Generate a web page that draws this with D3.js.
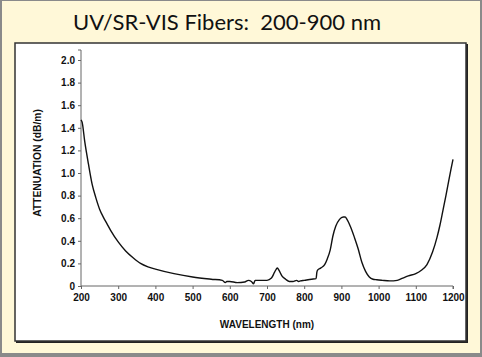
<!DOCTYPE html>
<html><head><meta charset="utf-8">
<script src="https://cdn.jsdelivr.net/npm/d3@7"></script>
<style>html,body{margin:0;padding:0;background:#fff;}svg{display:block;}</style>
</head><body>
<script>
const title = "UV/SR-VIS Fibers:\u00a0 200-900 nm";
const xLabel = "WAVELENGTH (nm)";
const yLabel = "ATTENUATION (dB/m)";
const xTicks = [200,300,400,500,600,700,800,900,1000,1100,1200];
const yTicks = [0,0.2,0.4,0.6,0.8,1.0,1.2,1.4,1.6,1.8,2.0];
const wavelength = [200,203,210,220,230,240,250,260,270,280,300,320,340,360,380,400,450,500,550,580,588,592,600,620,640,650,658,664,668,675,700,712,720,725,728,732,740,750,760,770,780,785,790,800,820,832,834,836,845,855,862,870,877,885,895,905,910,915,925,935,945,955,965,975,985,995,1010,1030,1050,1065,1080,1100,1115,1130,1145,1157,1165,1173,1181,1189,1195,1200];
const attenuation = [1.47,1.45,1.28,1.08,0.9,0.78,0.68,0.61,0.55,0.49,0.39,0.31,0.25,0.2,0.17,0.15,0.11,0.08,0.06,0.05,0.03,0.04,0.04,0.03,0.035,0.05,0.04,0.02,0.05,0.05,0.05,0.07,0.12,0.15,0.16,0.14,0.09,0.06,0.04,0.04,0.05,0.04,0.045,0.05,0.06,0.065,0.12,0.14,0.16,0.19,0.24,0.32,0.44,0.53,0.59,0.61,0.61,0.59,0.52,0.43,0.33,0.21,0.13,0.08,0.06,0.055,0.05,0.045,0.05,0.07,0.09,0.11,0.14,0.19,0.3,0.43,0.54,0.67,0.8,0.94,1.04,1.12];

const W=482,H=357;
const svg=d3.select("body").append("svg").attr("width",W).attr("height",H);
svg.append("rect").attr("x",0).attr("y",0).attr("width",W).attr("height",H).attr("fill","#8a8a8a");
svg.append("rect").attr("x",2).attr("y",1).attr("width",W-4).attr("height",H-5).attr("fill","#fff8d8");
// panel with shadow
svg.append("rect").attr("x",16).attr("y",44).attr("width",452).attr("height",299).attr("fill","#222");
svg.append("rect").attr("x",15).attr("y",43).attr("width",451).attr("height",298).attr("fill","#fff").attr("stroke","#333").attr("stroke-width",1.5);

svg.append("text").attr("x",227).attr("y",30).attr("text-anchor","middle")
  .attr("font-family","Lato, 'Open Sans', sans-serif").attr("font-size",22).attr("fill","#111").text(title);

const x=d3.scaleLinear().domain([200,1200]).range([81,453]);
const y=d3.scaleLinear().domain([0,2]).range([286,60]);

const font="Liberation Sans, Arial, sans-serif";
const xa=svg.append("g").attr("transform","translate(0,286)")
  .call(d3.axisBottom(x).tickValues(xTicks).tickSize(3).tickFormat(d3.format("d")));
const ya=svg.append("g").attr("transform","translate(81,0)")
  .call(d3.axisLeft(y).tickValues(yTicks).tickSize(3).tickFormat(d=>d===0?"0":d3.format(".1f")(d)));
[xa,ya].forEach(a=>{
  a.selectAll("text").attr("font-family",font).attr("font-weight","bold").attr("font-size",10).attr("fill","#111");
  a.selectAll("line").attr("stroke","#666");
  a.select(".domain").attr("stroke","#666");
});
ya.select(".domain").attr("d","M-3,50H0V286");
xa.select(".domain").attr("d","M81,0H453V3");
xa.selectAll("text").attr("dy","0.85em");

svg.append("text").attr("x",267).attr("y",328).attr("text-anchor","middle")
  .attr("font-family",font).attr("font-weight","bold").attr("font-size",10).attr("fill","#111").text(xLabel);
svg.append("text").attr("transform","translate(41,163) rotate(-90)").attr("text-anchor","middle")
  .attr("font-family",font).attr("font-weight","bold").attr("font-size",10.3).attr("fill","#111").text(yLabel);

const line=d3.line().x((d,i)=>x(wavelength[i])).y(d=>y(d)).curve(d3.curveMonotoneX);
svg.append("path").datum(attenuation).attr("d",line).attr("fill","none").attr("stroke","#111").attr("stroke-width",1.4);
</script>
</body></html>
